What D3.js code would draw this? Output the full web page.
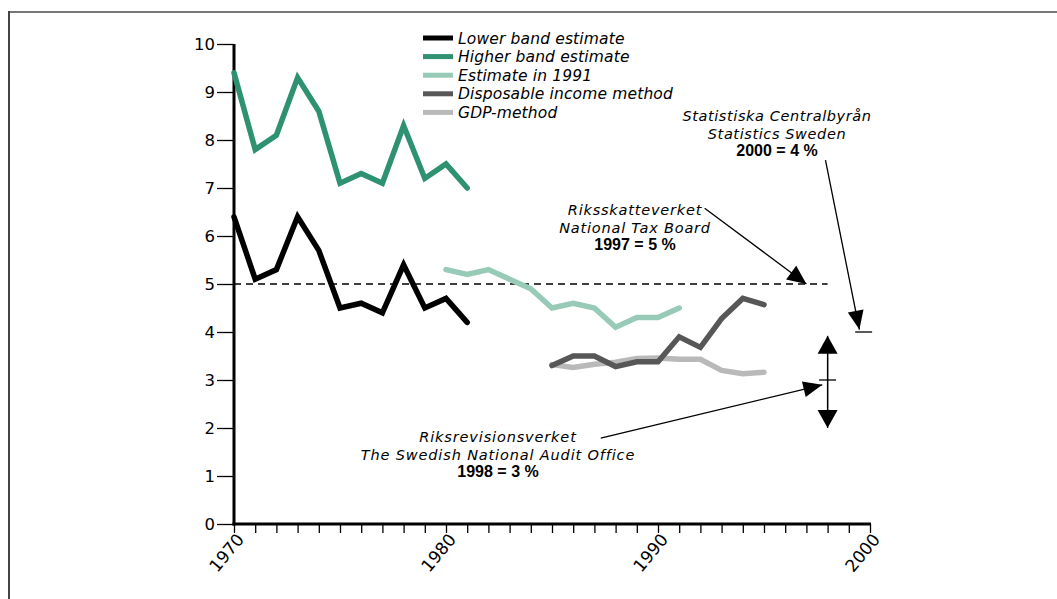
<!DOCTYPE html>
<html><head><meta charset="utf-8">
<script src="https://cdn.jsdelivr.net/npm/d3@7"></script>
<style>
html,body{margin:0;padding:0;background:#fff;}
svg text{font-family:"DejaVu Sans",sans-serif;}
</style></head>
<body>
<svg id="c" width="1057" height="599"></svg>
<script>
const yearsA = [1970,1971,1972,1973,1974,1975,1976,1977,1978,1979,1980,1981];
const lowerBand = [6.4,5.1,5.3,6.4,5.7,4.5,4.6,4.4,5.4,4.5,4.7,4.2];
const higherBand = [9.4,7.8,8.1,9.3,8.6,7.1,7.3,7.1,8.3,7.2,7.5,7.0];
const yearsB = [1980,1981,1982,1983,1984,1985,1986,1987,1988,1989,1990,1991];
const estimate1991 = [5.3,5.2,5.3,5.1,4.9,4.5,4.6,4.5,4.1,4.3,4.3,4.5];
const yearsC = [1985,1986,1987,1988,1989,1990,1991,1992,1993,1994,1995];
const disposable = [3.3,3.5,3.5,3.28,3.38,3.38,3.9,3.68,4.28,4.7,4.57];
const gdp = [3.32,3.26,3.33,3.37,3.45,3.46,3.43,3.43,3.2,3.13,3.16];
const legendLabels = ["Lower band estimate","Higher band estimate","Estimate in 1991","Disposable income method","GDP-method"];
const colors = ["#000000","#2e9172","#98cbb7","#575757","#b9b9b9"];
const xTickLabels = [1970,1980,1990,2000];
const yTickLabels = [0,1,2,3,4,5,6,7,8,9,10];

const svg = d3.select("#c");
// frame
svg.append("line").attr("x1",9).attr("y1",12).attr("x2",1057).attr("y2",12).attr("stroke","#777").attr("stroke-width",2);
svg.append("line").attr("x1",9).attr("y1",11).attr("x2",9).attr("y2",599).attr("stroke","#444").attr("stroke-width",2);

const x = d3.scaleLinear().domain([1970,2000]).range([234,870]);
const y = d3.scaleLinear().domain([0,10]).range([524,44]);

// y axis
const yAxis = svg.append("g").attr("transform","translate(234,0)")
  .call(d3.axisLeft(y).tickValues(yTickLabels).tickSize(17).tickPadding(2).tickFormat(d3.format("d")));
yAxis.select(".domain").remove();
yAxis.selectAll(".tick line").attr("stroke","#000").attr("stroke-width",1.3);
yAxis.selectAll(".tick text").attr("font-size",16.5).attr("fill","#000");
svg.append("line").attr("x1",234).attr("x2",234).attr("y1",y(10)).attr("y2",y(0)+1.5).attr("stroke","#000").attr("stroke-width",3);

// x axis
const xAxis = svg.append("g").attr("transform","translate(0,524)")
  .call(d3.axisBottom(x).tickValues(d3.range(1970,2001)).tickSize(9).tickFormat(""));
xAxis.select(".domain").remove();
xAxis.selectAll(".tick line").attr("stroke","#000").attr("stroke-width",1.3);
svg.append("line").attr("x1",232.5).attr("x2",871).attr("y1",524).attr("y2",524).attr("stroke","#000").attr("stroke-width",3);
svg.append("g").selectAll("text").data(xTickLabels).join("text")
  .attr("transform",d=>`translate(${x(d)+11},${540}) rotate(-50)`)
  .attr("text-anchor","end").attr("font-size",17).attr("fill","#000").text(d=>d);

// dashed line at 5
svg.append("line").attr("x1",x(1970)).attr("x2",x(1998)).attr("y1",y(5)).attr("y2",y(5))
  .attr("stroke","#000").attr("stroke-width",1.4).attr("stroke-dasharray","7,5");

const line = d3.line().x(d=>x(d[0])).y(d=>y(d[1]));
const series = [
  [yearsA, lowerBand, colors[0]],
  [yearsA, higherBand, colors[1]],
  [yearsB, estimate1991, colors[2]],
  [yearsC, gdp, colors[4]],
  [yearsC, disposable, colors[3]]
];
series.forEach(([xs,vs,c])=>{
  svg.append("path").datum(xs.map((yr,i)=>[yr,vs[i]])).attr("d",line)
    .attr("fill","none").attr("stroke",c).attr("stroke-width",5.5)
    .attr("stroke-linejoin","miter").attr("stroke-linecap","round");
});

// legend
const lg = svg.append("g");
legendLabels.forEach((t,i)=>{
  const yy = 38 + i*18.6;
  lg.append("line").attr("x1",423).attr("x2",453).attr("y1",yy).attr("y2",yy).attr("stroke",colors[i]).attr("stroke-width",5);
  lg.append("text").attr("x",458).attr("y",yy+5.5).attr("font-size",15.5).attr("letter-spacing",0.15).attr("font-style","italic").attr("fill","#000").text(t);
});

// arrow helper
function arrow(x1,y1,x2,y2,len,wid){
  svg.append("line").attr("x1",x1).attr("y1",y1).attr("x2",x2).attr("y2",y2).attr("stroke","#000").attr("stroke-width",1.3);
  const a = Math.atan2(y2-y1,x2-x1);
  const bx = x2 - len*Math.cos(a), by = y2 - len*Math.sin(a);
  const px = -Math.sin(a)*wid/2, py = Math.cos(a)*wid/2;
  svg.append("path").attr("d",`M${x2},${y2}L${bx+px},${by+py}L${bx-px},${by-py}Z`).attr("fill","#000");
}
function label(cx,cyTop,lines,ls){
  lines.forEach((l,i)=>{
    const t = svg.append("text").attr("x",cx).attr("y",cyTop+i*17.5).attr("text-anchor","middle").attr("fill","#000").text(l.t);
    if(l.b){
      t.style("font-family","'Liberation Sans',Arial,sans-serif").attr("font-size",16).attr("font-weight","bold");
    } else {
      t.attr("font-size",14.5).attr("letter-spacing",ls).attr("font-style","italic");
    }
  });
}

// Tax board
label(635,215,[{t:"Riksskatteverket"},{t:"National Tax Board"},{t:"1997 = 5 %",b:true}],0.8);
arrow(x(1992.2),y(6.58),x(1997),y(5),19,17);

// Statistics Sweden
label(777,121,[{t:"Statistiska Centralbyrån"},{t:"Statistics Sweden"},{t:"2000 = 4 %",b:true}],0.6);
arrow(x(1997.9),y(7.58),x(1999.5),y(4.05),19,16);
svg.append("line").attr("x1",x(1999.3)).attr("x2",x(2000.1)).attr("y1",y(4)).attr("y2",y(4)).attr("stroke","#000").attr("stroke-width",1.3);

// Audit office
label(498,442,[{t:"Riksrevisionsverket"},{t:"The Swedish National Audit Office"},{t:"1998 = 3 %",b:true}],0.85);
arrow(x(1987.3),y(1.79),x(1997.75),y(2.9),19,16);
// range bar at 1998
svg.append("line").attr("x1",x(1998)).attr("x2",x(1998)).attr("y1",y(3.85)).attr("y2",y(2.1)).attr("stroke","#000").attr("stroke-width",1.3);
arrow(x(1998),y(3),x(1998),y(3.92),18,20);
arrow(x(1998),y(3),x(1998),y(2.0),18,20);
svg.append("line").attr("x1",x(1997.6)).attr("x2",x(1998.4)).attr("y1",y(3)).attr("y2",y(3)).attr("stroke","#000").attr("stroke-width",1.3);
</script>
</body></html>
